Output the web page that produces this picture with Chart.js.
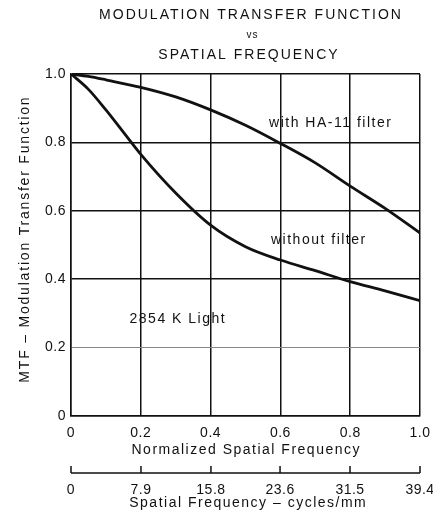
<!DOCTYPE html>
<html>
<head>
<meta charset="utf-8">
<style>
  html, body { margin: 0; padding: 0; background: #fff; }
  #wrap { position: relative; width: 433px; height: 522px; }
</style>
<script src="https://cdn.jsdelivr.net/npm/chart.js@4.4.1/dist/chart.umd.min.js"></script>
</head>
<body>
<div id="wrap"><canvas id="cMtf" width="433" height="522"></canvas></div>
<script>
/* MTF vs spatial frequency, two curves on a boxed grid with a second cycles/mm scale */
var FREQ = [0, 0.05, 0.1, 0.15, 0.2, 0.3, 0.4, 0.5, 0.6, 0.7, 0.8, 0.9, 1.0];
var WITH_FILTER = [1.0, 0.993, 0.983, 0.972, 0.961, 0.933, 0.895, 0.85, 0.797, 0.74, 0.672, 0.607, 0.535];
var WITHOUT_FILTER = [1.0, 0.955, 0.895, 0.83, 0.765, 0.652, 0.558, 0.495, 0.456, 0.425, 0.393, 0.366, 0.337];
var NORM_TICKS = [0, 0.2, 0.4, 0.6, 0.8, 1.0];
var NORM_LABELS = ["0", "0.2", "0.4", "0.6", "0.8", "1.0"];
var MTF_LABELS = ["0", "0.2", "0.4", "0.6", "0.8", "1.0"];
var CM_TICKS = [0, 7.9, 15.8, 23.6, 31.5, 39.4];
var CM_LABELS = ["0", "7.9", "15.8", "23.6", "31.5", "39.4"];
var TITLE = ["MODULATION TRANSFER FUNCTION", "vs", "SPATIAL FREQUENCY"];
var X_TITLE = "Normalized Spatial Frequency";
var X2_TITLE = "Spatial Frequency \u2013 cycles/mm";
var Y_TITLE = "MTF \u2013 Modulation Transfer Function";
var NOTES = [
  { text: "with HA-11 filter", x: 0.742, y: 0.857 },
  { text: "without filter", x: 0.708, y: 0.515 },
  { text: "2854 K Light", x: 0.304, y: 0.284 }
];

var INK = "#111", FONT = "'Liberation Sans', Arial, sans-serif";
Chart.defaults.font.family = FONT;
Chart.defaults.font.size = 14;
Chart.defaults.color = INK;

function pts(ys) { return FREQ.map(function (x, i) { return { x: x, y: ys[i] }; }); }
function curve(ys) {
  return { data: pts(ys), borderColor: INK, backgroundColor: INK, borderWidth: 2.8,
    pointRadius: 0, cubicInterpolationMode: "monotone", fill: false };
}
function isTwo(c) { return Math.abs(c.tick.value - 0.2) < 1e-6; }
function fixTicks(list) {
  return function (s) { s.ticks = list.map(function (v) { return { value: v }; }); };
}
// pin the axis box sizes so the plot area lands where the original's does
function fitH(h) {
  return function (s) { s.height = h; s.paddingRight = 13; s.paddingLeft = 4; };
}
function text(ctx, str, x, y, size, track) {
  ctx.font = size + "px " + FONT;
  ctx.letterSpacing = track + "px";
  ctx.fillText(str, x + track / 2, y);
}

var decor = {
  id: "decor",
  // slight tracking on tick labels, set before measuring and drawing
  beforeUpdate: function (chart) { chart.ctx.letterSpacing = "0.5px"; },
  beforeDraw: function (chart) { chart.ctx.letterSpacing = "0.5px"; },
  afterDraw: function (chart) {
    var ctx = chart.ctx, sx = chart.scales.x, sy = chart.scales.y, s2 = chart.scales.x2;
    var a = chart.chartArea, mid = (a.left + a.right) / 2;
    ctx.save();
    ctx.fillStyle = INK;
    ctx.textAlign = "center";
    ctx.textBaseline = "middle";
    // title block
    text(ctx, TITLE[0], 250, 15, 14, 2);
    text(ctx, TITLE[1], 252, 35, 10, 1);
    text(ctx, TITLE[2], 248, 55, 14, 2);
    // axis titles
    text(ctx, X_TITLE, mid, 450, 14, 1.5);
    text(ctx, X2_TITLE, mid + 2, 503, 14, 1.5);
    ctx.save();
    ctx.translate(25, 240);
    ctx.rotate(-Math.PI / 2);
    text(ctx, Y_TITLE, 0, 0, 14, 1.8);
    ctx.restore();
    // curve notes
    NOTES.forEach(function (n) {
      text(ctx, n.text, sx.getPixelForValue(n.x), sy.getPixelForValue(n.y), 14, 1.5);
    });
    // second scale: baseline with upward ticks
    var ly = s2.top + 14.6;
    ctx.strokeStyle = INK;
    ctx.lineWidth = 1.5;
    ctx.beginPath();
    ctx.moveTo(s2.getPixelForValue(CM_TICKS[0]), ly);
    ctx.lineTo(s2.getPixelForValue(CM_TICKS[CM_TICKS.length - 1]), ly);
    CM_TICKS.forEach(function (v) {
      var px = s2.getPixelForValue(v);
      ctx.moveTo(px, ly);
      ctx.lineTo(px, ly - 7);
    });
    ctx.stroke();
    ctx.restore();
  }
};

new Chart(document.getElementById("cMtf"), {
  type: "line",
  data: { datasets: [curve(WITH_FILTER), curve(WITHOUT_FILTER)] },
  options: {
    responsive: false, animation: false,
    layout: { padding: { top: 74, right: 0, left: 14, bottom: 10.6 } },
    plugins: { legend: { display: false }, tooltip: { enabled: false } },
    scales: {
      x: {
        type: "linear", position: "bottom", min: 0, max: 1,
        afterBuildTicks: fixTicks(NORM_TICKS),
        afterFit: fitH(42.4),
        ticks: { maxRotation: 0, padding: 9,
          callback: function (v, i) { return NORM_LABELS[i]; } },
        grid: { color: INK, lineWidth: 1.5, drawTicks: false },
        border: { color: INK, width: 1.5 }
      },
      x2: {
        type: "linear", position: "bottom", weight: 1, min: 0, max: 39.4,
        afterBuildTicks: fixTicks(CM_TICKS),
        afterFit: fitH(53),
        ticks: { maxRotation: 0, padding: 23,
          callback: function (v, i) { return CM_LABELS[i]; } },
        grid: { display: false, drawTicks: false },
        border: { display: false }
      },
      y: {
        min: 0, max: 1,
        afterBuildTicks: fixTicks(NORM_TICKS),
        afterFit: function (s) { s.width = 57; },
        ticks: { padding: 5,
          callback: function (v, i) { return MTF_LABELS[i]; } },
        grid: { drawTicks: false,
          color: function (c) { return isTwo(c) ? "#888" : INK; },
          lineWidth: function (c) { return isTwo(c) ? 1 : 1.5; } },
        border: { color: INK, width: 1.5 }
      }
    }
  },
  plugins: [decor]
});
</script>
</body>
</html>
